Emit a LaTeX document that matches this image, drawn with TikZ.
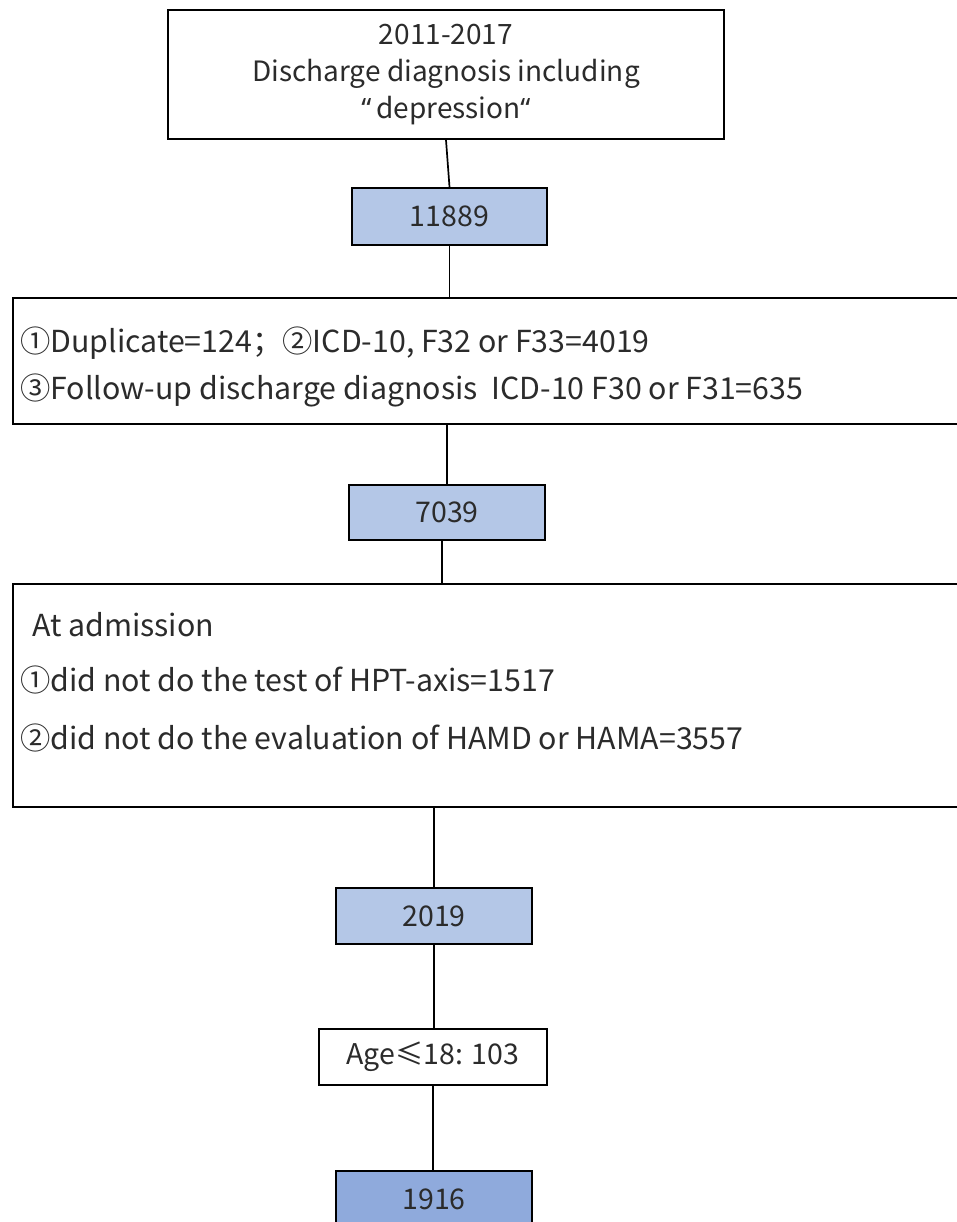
\documentclass[tikz,border=0pt]{standalone}
\usepackage{fontspec}
\setmainfont{Noto Sans CJK SC}
\newfontfamily\qf{Noto Sans}
\definecolor{lb}{HTML}{B4C7E7}
\definecolor{db}{HTML}{8FAADC}
\definecolor{tx}{HTML}{2B2B2B}
\begin{document}
\begin{tikzpicture}[x=1pt,y=-1pt,
  box/.style={draw=black,line width=2pt,inner sep=0pt,text=tx,font=\fontsize{28.5}{37}\selectfont},
  txt/.style={inner sep=0pt,text=tx,font=\fontsize{30.3}{36}\selectfont,anchor=west},
  conn/.style={draw=black,line width=1.7pt}]
\useasboundingbox (0,0) rectangle (956,1222);
\node[box,fill=white,minimum width=556pt,minimum height=129pt,align=center,font=\fontsize{28}{37}\selectfont] (top) at (446,74.5)
  {2011-2017\\Discharge diagnosis including\\{\qf“}\,depression{\qf“}};
\node[box,fill=lb,minimum width=195pt,minimum height=57pt] (n1) at (449.5,216.5) {11889};
\node[box,fill=white,minimum width=960pt,minimum height=126pt,anchor=north west] (b2) at (12,297) {};
\node[txt] (t21) at (20,343) {①Duplicate=124；②ICD-10, F32 or F33=4019};
\node[txt] (t22) at (20,390) {③Follow-up discharge diagnosis\ \ ICD-10 F30 or F31=635};
\node[box,fill=lb,minimum width=196pt,minimum height=55pt] (n2) at (447,512.5) {7039};
\node[box,fill=white,minimum width=960pt,minimum height=223pt,anchor=north west] (b3) at (12,583) {};
\node[txt] (t31) at (32,625) {At admission};
\node[txt] (t32) at (20,680) {①did not do the test of HPT-axis=1517};
\node[txt] (t33) at (20,738) {②did not do the evaluation of HAMD or HAMA=3557};
\node[box,fill=lb,minimum width=196pt,minimum height=56pt] (n3) at (434,916) {2019};
\node[box,fill=white,minimum width=228pt,minimum height=56pt] (age) at (433,1057) {Age≤18: 103};
\node[box,fill=db,minimum width=196pt,minimum height=56pt] (n4) at (434,1199) {1916};
\draw[conn] (top.south) -- (n1.north);
\draw[conn] (n1.south) -- (n1.south |- b2.north);
\draw[conn] (n2.north |- b2.south) -- (n2.north);
\draw[conn] ([xshift=-5pt]n2.south) -- ([xshift=-5pt]n2.south |- b3.north);
\draw[conn] (n3.north |- b3.south) -- (n3.north);
\draw[conn] (n3.south) -- (n3.south |- age.north);
\draw[conn] (age.south) -- (age.south |- n4.north);
\end{tikzpicture}
\end{document}
